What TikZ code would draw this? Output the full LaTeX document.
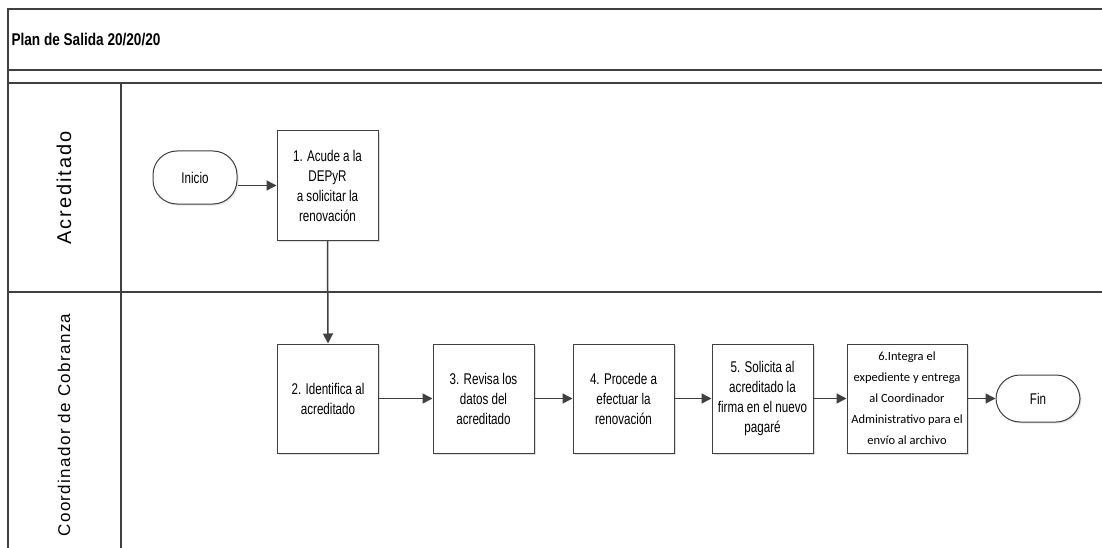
\documentclass[tikz,border=0pt]{standalone}
\usepackage{fontspec}
\setmainfont{Liberation Sans}
\newfontfamily\narrowfont[FakeStretch=0.75]{Liberation Sans}
\newfontfamily\titlefont[FakeStretch=0.8]{Liberation Sans}
\newfontfamily\laneAfont[LetterSpace=10]{Liberation Sans}
\newfontfamily\laneBfont[LetterSpace=8]{Liberation Sans}
\newfontfamily\calfont{Carlito}
\usetikzlibrary{arrows.meta,shadows}
\definecolor{linegray}{HTML}{404040}
\tikzset{
  frame/.style={draw=linegray, line width=1.4pt},
  procbox/.style={draw=linegray, line width=1pt, fill=white, minimum width=101pt,
    minimum height=109pt, align=center, inner sep=2pt,
    font=\narrowfont\fontsize{15.5}{20}\selectfont,
    drop shadow={shadow xshift=1.5pt, shadow yshift=-1.5pt, opacity=0.25}},
  terminal/.style={draw=linegray, line width=1pt, fill=white, rounded corners=24pt,
    minimum width=84pt, minimum height=50pt, font=\narrowfont\fontsize{15.5}{16}\selectfont,
    drop shadow={shadow xshift=1.5pt, shadow yshift=-1.5pt, opacity=0.2}},
  lanelabel/.style={rotate=90},
  arr/.style={draw=linegray, line width=1.5pt, -{Triangle[length=10pt,width=10pt]}},
}
\begin{document}
\begin{tikzpicture}[x=1pt,y=-1pt]
\useasboundingbox (0,0) rectangle (1102,548);
% frame
\draw[frame] (1110,9) -- (8,9) -- (8,560);
\draw[frame] (8,70) -- (1110,70);
\draw[frame] (8,83) -- (1110,83);
\draw[frame] (121,83) -- (121,560);
\draw[frame] (8,292) -- (1110,292);
\node[anchor=west, font=\titlefont\bfseries\fontsize{17}{20}\selectfont] (title) at (8,40) {Plan de Salida 20/20/20};
\node[lanelabel, font=\laneAfont\fontsize{20}{22}\selectfont] (lane1) at (64,188) {Acreditado};
\node[lanelabel, font=\laneBfont\fontsize{17}{20}\selectfont] (lane2) at (64,425) {Coordinador de Cobranza};
% nodes
\node[terminal, minimum height=53pt] (inicio) at (195,177.5) {Inicio};
\node[procbox] (b1) at (327.5,185.5) {1. Acude a la\\DEPyR\\a solicitar la\\renovación};
\node[procbox] (b2) at (328,398.5) {2. Identifica al\\acreditado};
\node[procbox] (b3) at (483.5,398.5) {3. Revisa los\\datos del\\acreditado};
\node[procbox] (b4) at (623.5,398.5) {4. Procede a\\efectuar la\\renovación};
\node[procbox] (b5) at (762.5,398.5) {5. Solicita al\\acreditado la\\firma en el nuevo\\pagaré};
\node[procbox, minimum width=120pt, font=\calfont\fontsize{12.5}{21}\selectfont] (b6) at (907,398.5) {6.Integra el\\expediente y entrega\\al Coordinador\\Administrativo para el\\envío al archivo};
\node[terminal, minimum height=47pt] (fin) at (1038,398.5) {Fin};
% connectors
\draw[arr] (inicio.east |- b1.west) -- (b1.west);
\draw[arr] (b1.south) -- (b2.north);
\draw[arr] (b2) -- (b3);
\draw[arr] (b3) -- (b4);
\draw[arr] (b4) -- (b5);
\draw[arr] (b5) -- (b6);
\draw[arr] (b6) -- (fin);
\end{tikzpicture}
\end{document}
